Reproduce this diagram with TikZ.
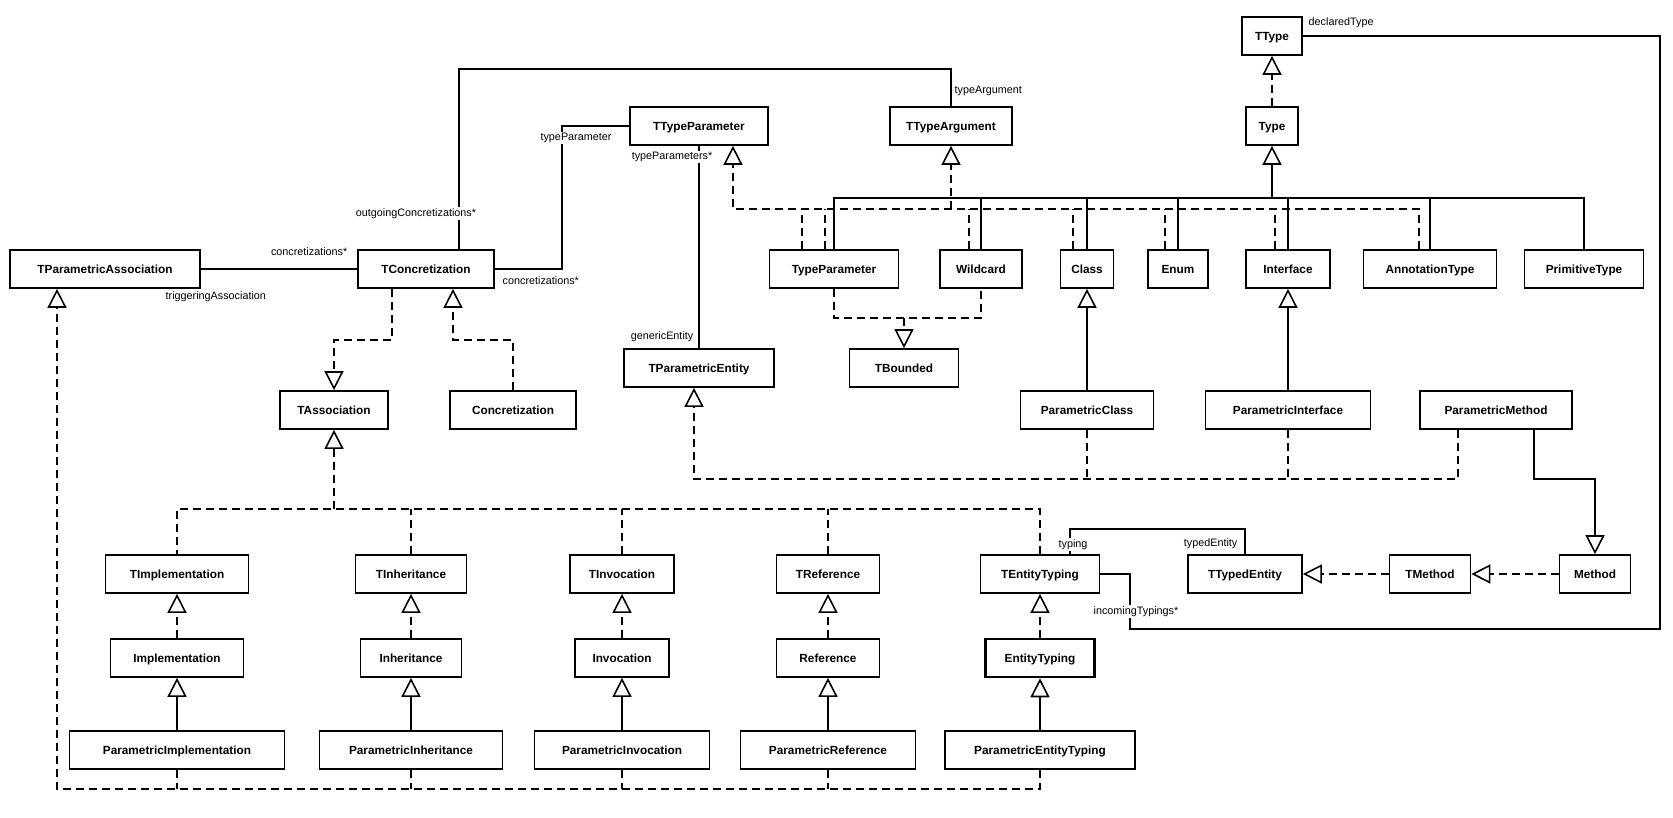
\documentclass[tikz,border=0pt]{standalone}
\usepackage{fontspec}
\setmainfont{Liberation Sans}
\usetikzlibrary{arrows.meta,calc}
\begin{document}
\begin{tikzpicture}[x=1pt,y=-1pt,
  cls/.style={draw, line width=1.7pt, minimum height=38pt, inner sep=0pt, fill=white,
    text height=8.45pt, text depth=0pt,
    font=\bfseries\fontsize{11.8}{14}\selectfont},
  lbl/.style={font=\fontsize{10.8}{13}\selectfont, inner sep=0.5pt},
  lblbg/.style={lbl, fill=white, inner sep=1.5pt},
  assoc/.style={line width=1.6pt},
  gen/.style={line width=1.6pt, -{Triangle[open,length=19pt,width=19pt]}},
  real/.style={line width=1.6pt, dash pattern=on 8pt off 5pt, -{Triangle[open,length=19pt,width=19pt]}},
  realline/.style={line width=1.6pt, dash pattern=on 8pt off 5pt}]
\useasboundingbox (0,0) rectangle (1673,818);
% ---------- classes ----------
\node[cls,minimum width=60pt] (ttype) at (1272,36) {TType};
\node[cls,minimum width=138pt] (ttp) at (699,126) {TTypeParameter};
\node[cls,minimum width=122pt] (targ) at (951,126) {TTypeArgument};
\node[cls,minimum width=52pt] (type) at (1272,126) {Type};
\node[cls,minimum width=190pt] (tpa) at (105,269) {TParametricAssociation};
\node[cls,minimum width=136pt] (tcon) at (426,269) {TConcretization};
\node[cls,minimum width=129pt] (tpar) at (834,269) {TypeParameter};
\node[cls,minimum width=82pt] (wild) at (981,269) {Wildcard};
\node[cls,minimum width=53pt] (class) at (1087,269) {Class};
\node[cls,minimum width=60pt] (enum) at (1178,269) {Enum};
\node[cls,minimum width=84pt] (iface) at (1288,269) {Interface};
\node[cls,minimum width=133pt] (annot) at (1430,269) {AnnotationType};
\node[cls,minimum width=119pt] (prim) at (1584,269) {PrimitiveType};
\node[cls,minimum width=150pt] (tpe) at (699,368) {TParametricEntity};
\node[cls,minimum width=109pt] (tbd) at (904,368) {TBounded};
\node[cls,minimum width=108pt] (tassoc) at (334,410) {TAssociation};
\node[cls,minimum width=126pt] (conc) at (513,410) {Concretization};
\node[cls,minimum width=133pt] (pclass) at (1087,410) {ParametricClass};
\node[cls,minimum width=165pt] (piface) at (1288,410) {ParametricInterface};
\node[cls,minimum width=152pt] (pmeth) at (1496,410) {ParametricMethod};
\node[cls,minimum width=143pt] (timpl) at (177,574) {TImplementation};
\node[cls,minimum width=111pt] (tinh) at (411,574) {TInheritance};
\node[cls,minimum width=104pt] (tinv) at (622,574) {TInvocation};
\node[cls,minimum width=103pt] (tref) at (828,574) {TReference};
\node[cls,minimum width=119pt] (tet) at (1040,574) {TEntityTyping};
\node[cls,minimum width=114pt] (tte) at (1245,574) {TTypedEntity};
\node[cls,minimum width=81pt] (tmeth) at (1430,574) {TMethod};
\node[cls,minimum width=71pt] (meth) at (1595,574) {Method};
\node[cls,minimum width=133pt] (impl) at (177,658) {Implementation};
\node[cls,minimum width=101pt] (inh) at (411,658) {Inheritance};
\node[cls,minimum width=94pt] (inv) at (622,658) {Invocation};
\node[cls,minimum width=103pt] (ref) at (828,658) {Reference};
\node[cls,minimum width=109pt,line width=2.6pt] (et) at (1040,658) {EntityTyping};
\node[cls,minimum width=215pt] (pimpl) at (177,750) {ParametricImplementation};
\node[cls,minimum width=183pt] (pinh) at (411,750) {ParametricInheritance};
\node[cls,minimum width=175pt] (pinv) at (622,750) {ParametricInvocation};
\node[cls,minimum width=175pt] (pref) at (828,750) {ParametricReference};
\node[cls,minimum width=190pt] (pet) at (1040,750) {ParametricEntityTyping};
% ---------- associations ----------
\draw[assoc] (tpa.east) -- (tcon.west);
\coordinate (oc1) at (459,69);
\coordinate (oc2) at (951,69);
\draw[assoc] (tcon.north -| oc1) -- (oc1) -- (oc2) -- (targ.north);
\coordinate (tp1) at (562,126);
\draw[assoc] (tcon.east) -| (tp1) -- (ttp.west);
\draw[assoc] (ttp.south) -- (tpe.north);
\coordinate (dt1) at (1660,36);
\coordinate (dt2) at (1130,629);
\draw[assoc] (ttype.east) -- (dt1) |- (dt2) |- (tet.east);
\coordinate (ty1) at (1070,529);
\draw[assoc] (tet.north -| ty1) -- (ty1) -| (tte.north);
% ---------- Type hierarchy ----------
\draw[real] (type.north) -- (ttype.south);
\coordinate (gj) at (1272,198);
\draw[gen] (gj) -- (type.south);
\draw[assoc] (tpar.north) |- (prim.north |- gj) -- (prim.north);
\foreach \n in {wild,class,enum,iface,annot}
  \draw[assoc] (\n.north) -- (\n.north |- gj);
% realizations of TTypeParameter / TTypeArgument
\coordinate (rj) at (951,209);
\coordinate (rl) at (733,209);
\coordinate (rr) at (1419,209);
\draw[real] (annot.north -| rr) -- (rr) -- (rl) -- (ttp.south -| rl);
\draw[real] (rj) -- (targ.south);
\foreach \n/\dx in {tpar/-32, tpar/-9, wild/-12, class/-14, enum/-13, iface/-13}
  \draw[realline] ($(\n.north)+(\dx,0)$) -- ($(\n.north |- rj)+(\dx,0)$);
% TBounded
\coordinate (bj) at (904,318);
\draw[realline] (tpar.south) |- (wild.south |- bj) -- (wild.south);
\draw[real] (bj) -- (tbd.north);
% parametric types
\draw[gen] (pclass.north) -- (class.south);
\draw[gen] (piface.north) -- (iface.south);
\coordinate (pe) at (694,479);
\draw[real] ($(pmeth.south)+(-38,0)$) |- (pe) -- (tpe.south -| pe);
\draw[realline] (pclass.south) -- (pclass.south |- pe);
\draw[realline] (piface.south) -- (piface.south |- pe);
\coordinate (pm) at (1534,479);
\draw[gen] (pmeth.south -| pm) -- (pm) -| (meth.north);
\draw[real] (meth.west) -- (tmeth.east);
\draw[real] (tmeth.west) -- (tte.east);
% concretization
\coordinate (ca) at (392,340);
\draw[real] (tcon.south -| ca) -- (ca) -| (tassoc.north);
\coordinate (cb) at (453,340);
\draw[real] (conc.north) |- (cb) -- (tcon.south -| cb);
% associations hierarchy
\coordinate (aj) at (334,509);
\draw[real] (aj) -- (tassoc.south);
\draw[realline] (tet.north) |- (timpl.north |- aj) -- (timpl.north);
\foreach \n in {tinh,tinv,tref}
  \draw[realline] (\n.north) -- (\n.north |- aj);
\foreach \a/\b in {impl/timpl,inh/tinh,inv/tinv,ref/tref,et/tet}
  \draw[real] (\a.north) -- (\b.south);
\foreach \a/\b in {pimpl/impl,pinh/inh,pinv/inv,pref/ref,pet/et}
  \draw[gen] (\a.north) -- (\b.south);
\coordinate (pa) at (57,789);
\draw[real] (pet.south) |- (pa) -- (tpa.south -| pa);
\foreach \n in {pimpl,pinh,pinv,pref}
  \draw[realline] (\n.south) -- (\n.south |- pa);
% ---------- labels ----------
\node[lbl,anchor=mid east] (l1) at (348,253) {concretizations*};
\node[lbl,anchor=mid west] (l2) at (165,297) {triggeringAssociation};
\node[lblbg,anchor=mid] (l3) at (416,214) {outgoingConcretizations*};
\node[lblbg,anchor=mid] (l4) at (576,138) {typeParameter};
\node[lbl,anchor=mid west] (l5) at (502,282) {concretizations*};
\node[lbl,anchor=mid west] (l6) at (954,91) {typeArgument};
\node[lblbg,anchor=mid] (l7) at (672,157) {typeParameters*};
\node[lbl,anchor=mid east] (l8) at (694,337) {genericEntity};
\node[lbl,anchor=mid west] (l9) at (1308,23) {declaredType};
\node[lblbg,anchor=mid] (l10) at (1136,612) {incomingTypings*};
\node[lblbg,anchor=mid] (l11) at (1073,545) {typing};
\node[lbl,anchor=mid east] (l12) at (1238,544) {typedEntity};
\end{tikzpicture}
\end{document}
